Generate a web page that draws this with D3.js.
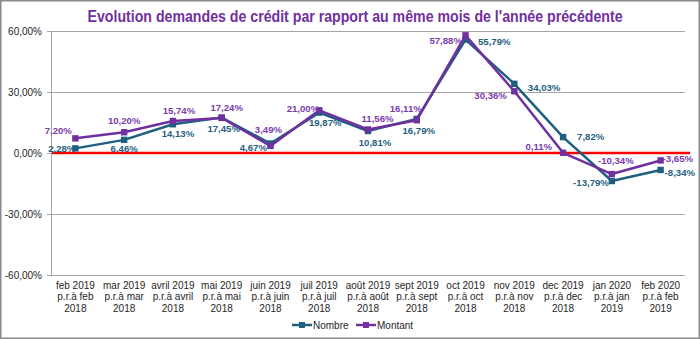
<!DOCTYPE html>
<html>
<head>
<meta charset="utf-8">
<script src="https://cdn.jsdelivr.net/npm/d3@7"></script>
<style>
  html, body { margin: 0; padding: 0; background: #fff; }
  svg { display: block; font-family: "Liberation Sans", Arial, sans-serif; }
</style>
</head>
<body>
<svg id="chart" width="700" height="339"></svg>
<script>
// Month-on-month comparison labels (three lines each)
const categories = [
  ["feb 2019", "p.r.à feb", "2018"],
  ["mar 2019", "p.r.à mar", "2018"],
  ["avril 2019", "p.r.à avril", "2018"],
  ["mai 2019", "p.r.à mai", "2018"],
  ["juin 2019", "p.r.à juin", "2018"],
  ["juil 2019", "p.r.à juil", "2018"],
  ["août 2019", "p.r.à août", "2018"],
  ["sept 2019", "p.r.à sept", "2018"],
  ["oct 2019", "p.r.à oct", "2018"],
  ["nov 2019", "p.r.à nov", "2018"],
  ["dec 2019", "p.r.à dec", "2018"],
  ["jan 2020", "p.r.à jan", "2019"],
  ["feb 2020", "p.r.à feb", "2019"]
];

// Year-on-year change, in percent
const nombre  = [2.28, 6.46, 14.13, 17.45, 4.67, 19.87, 10.81, 16.79, 55.79, 34.03, 7.82, -13.79, -8.34];
const montant = [7.20, 10.20, 15.74, 17.24, 3.49, 21.00, 11.56, 16.11, 57.88, 30.36, 0.11, -10.34, -3.65];

const yTicks = [60, 30, 0, -30, -60];
const seriesNames = ["Nombre", "Montant"];

// Value-label placement around each marker: [text-anchor, dx, dy of label centre]
const nombreLabelPlacement = [
  ["end", 0, 0], ["middle", 0, 8.5], ["middle", 5, 9], ["middle", 2, 11.5],
  ["end", -3.5, 4], ["middle", 6, 10], ["middle", 7, 12], ["middle", 2, 12],
  ["start", 12.5, 2], ["start", 13.5, 3.5], ["start", 14, 0], ["end", -3, 1.5],
  ["start", 4, 2.7]
];
const montantLabelPlacement = [
  ["end", -3.5, -7.5], ["middle", 0, -12], ["middle", 6, -10], ["middle", 5, -10],
  ["middle", -2, -16.5], ["end", 0, -1.3], ["middle", 9.5, -11], ["middle", -11, -12],
  ["end", -3.6, 5.4], ["end", -7.4, 4.7], ["end", -11, -6], ["middle", 4, -13],
  ["start", 2, -1.4]
];

const W = 700, H = 339;
const plot = { left: 51, right: 685, top: 31, bottom: 275 };
const colNombre = "#1F5F7F", colMontant = "#7030A0";
const lblNombre = "#25607F", lblMontant = "#7A3CAE";

const svg = d3.select("#chart");
const fmt = v => d3.format(".2f")(v).replace(".", ",").replace("\u2212", "-") + "%";

// Outer frame
svg.append("rect")
  .attr("x", 0.75).attr("y", 0.75).attr("width", W - 1.5).attr("height", H - 1.5)
  .attr("fill", "#fff").attr("stroke", "#8a8a8a").attr("stroke-width", 1.5);

// Title
svg.append("text")
  .attr("x", 355).attr("y", 22)
  .attr("text-anchor", "middle")
  .attr("font-size", 16).attr("font-weight", "bold")
  .attr("fill", "#7030A0")
  .attr("textLength", 535).attr("lengthAdjust", "spacingAndGlyphs")
  .text("Evolution demandes de crédit par rapport au même mois de l'année précédente");

const x = d3.scaleBand().domain(d3.range(categories.length))
  .range([plot.left, plot.right]).paddingInner(0).paddingOuter(0);
const y = d3.scaleLinear().domain([-60, 60]).range([plot.bottom, plot.top]);
const cx = i => x(i) + x.bandwidth() / 2;

// Horizontal gridlines + value axis labels
const yAxis = d3.axisLeft(y).tickValues(yTicks)
  .tickSize(-(plot.right - plot.left)).tickPadding(9)
  .tickFormat(d => fmt(d));
const gy = svg.append("g").attr("transform", `translate(${plot.left},0)`).call(yAxis);
gy.select(".domain").remove();
gy.selectAll(".tick line").attr("stroke", "#a6a6a6").attr("stroke-width", 1);
gy.selectAll(".tick text").attr("font-size", 10).attr("fill", "#262626")
  .attr("font-family", "'Liberation Sans', Arial, sans-serif");
// short outer tick marks
gy.selectAll(".tick").append("line")
  .attr("x1", -4).attr("x2", 0).attr("stroke", "#a6a6a6");

// Vertical axis line
svg.append("line")
  .attr("x1", plot.left + 0.5).attr("x2", plot.left + 0.5)
  .attr("y1", plot.top).attr("y2", plot.bottom)
  .attr("stroke", "#a6a6a6");

// Category labels
const gx = svg.append("g");
categories.forEach((lines, i) => {
  const t = gx.append("text")
    .attr("x", cx(i)).attr("y", plot.bottom + 14)
    .attr("text-anchor", "middle").attr("font-size", 10).attr("fill", "#262626");
  lines.forEach((ln, k) => {
    t.append("tspan").attr("x", cx(i)).attr("dy", k === 0 ? 0 : 11.3).text(ln);
  });
});

// Zero reference line
svg.append("line")
  .attr("x1", plot.left + 1).attr("x2", 690)
  .attr("y1", y(0)).attr("y2", y(0))
  .attr("stroke", "#FF0000").attr("stroke-width", 2.5);

// Series lines + markers
const line = d3.line().x((d, i) => cx(i)).y(d => y(d));
function drawSeries(values, color) {
  svg.append("path").datum(values)
    .attr("d", line).attr("fill", "none")
    .attr("stroke", color).attr("stroke-width", 2.5)
    .attr("stroke-linejoin", "round");
  svg.append("g").selectAll("rect").data(values).join("rect")
    .attr("x", (d, i) => cx(i) - 3.2).attr("y", d => y(d) - 3.2)
    .attr("width", 6.4).attr("height", 6.4)
    .attr("fill", color);
}
drawSeries(nombre, colNombre);
drawSeries(montant, colMontant);

// Value labels
function drawLabels(values, placement, color) {
  const g = svg.append("g");
  values.forEach((v, i) => {
    const [anchor, dx, dy] = placement[i];
    g.append("text")
      .attr("x", cx(i) + dx).attr("y", y(v) + dy + 3.4)
      .attr("text-anchor", anchor)
      .attr("font-size", 9.6).attr("font-weight", "bold")
      .attr("fill", color).text(fmt(v));
  });
}
drawLabels(nombre, nombreLabelPlacement, lblNombre);
drawLabels(montant, montantLabelPlacement, lblMontant);

// Legend
const legend = svg.append("g");
const legendItems = [
  { name: seriesNames[0], color: colNombre, x: 292 },
  { name: seriesNames[1], color: colMontant, x: 356 }
];
legendItems.forEach(it => {
  legend.append("line")
    .attr("x1", it.x).attr("x2", it.x + 20).attr("y1", 325).attr("y2", 325)
    .attr("stroke", it.color).attr("stroke-width", 2.5);
  legend.append("rect")
    .attr("x", it.x + 7).attr("y", 322).attr("width", 6).attr("height", 6)
    .attr("fill", it.color);
  legend.append("text")
    .attr("x", it.x + 21).attr("y", 328.5)
    .attr("font-size", 10).attr("fill", "#262626").text(it.name);
});
</script>
</body>
</html>
